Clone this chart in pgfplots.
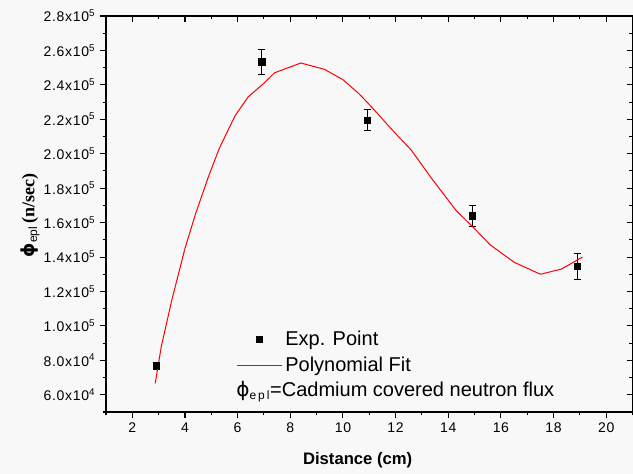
\documentclass[border=0pt]{standalone}
\usepackage{pgfplots}
\pgfplotsset{compat=1.18}
\usepackage{fontspec}
\setmainfont{Liberation Sans}
\newfontfamily\serifbf{Liberation Serif}
\newfontfamily\symb{DejaVu Sans}
\newfontfamily\ticksans[LetterSpace=5]{Liberation Sans}
\definecolor{bg}{HTML}{F8F8F8}
% tick label of the form m.m x 10^e
\newcommand{\sci}[2]{#1x10\textsuperscript{#2}}
\pgfplotsset{
  fitlegend/.style={legend image code/.code={\draw[#1] (0pt,0pt) -- (34pt,0pt);}},
  ptlegend/.style={legend image code/.code={\draw[#1] plot coordinates {(17pt,0pt)};}},
}
\begin{document}
\begin{tikzpicture}
\path[use as bounding box, fill=bg] (0,0) rectangle (474.75pt,355.5pt);
% frame with the top and right ticks, pointing inwards
\begin{axis}[
  at={(79.5pt,46.5pt)}, anchor=south west,
  width=394.9pt, height=297pt, scale only axis,
  xmin=1, xmax=21, ymin=50000, ymax=280000,
  xtick={2,4,...,20}, minor xtick={1,3,...,21},
  ytick={60000,80000,...,280000}, minor ytick={50000,70000,...,270000},
  xtick pos=right, ytick pos=right, tick align=inside,
  xticklabels={}, yticklabels={}, scaled y ticks=false, scaled x ticks=false,
  major tick length=4.5pt, minor tick length=2.5pt,
  axis line style={black, line width=0.8pt},
  every tick/.style={black, line width=0.8pt},
]
\end{axis}
\begin{axis}[
  at={(79.5pt,46.5pt)}, anchor=south west,
  width=394.9pt, height=297pt, scale only axis,
  xmin=1, xmax=21, ymin=50000, ymax=280000,
  xtick={2,4,...,20}, minor xtick={1,3,...,21},
  ytick={60000,80000,...,280000}, minor ytick={50000,70000,...,270000},
  yticklabels={\sci{6.0}{4},\sci{8.0}{4},\sci{1.0}{5},\sci{1.2}{5},\sci{1.4}{5},\sci{1.6}{5},\sci{1.8}{5},\sci{2.0}{5},\sci{2.2}{5},\sci{2.4}{5},\sci{2.6}{5},\sci{2.8}{5}},
  xtick pos=left, ytick pos=left, tick align=outside,
  major tick length=4.5pt, minor tick length=2.5pt,
  axis line style={black, line width=0.8pt},
  every tick/.style={black, line width=0.8pt},
  scaled y ticks=false,
  tick label style={font=\ticksans\fontsize{10.5}{12}\selectfont},
  /pgf/number format/assume math mode=true,
  xlabel={\bfseries Distance (cm)},
  xlabel style={at={(axis description cs:0.478,-0.121)}, anchor=center, font=\fontsize{12.5}{15}\selectfont},
  ylabel={{\symb\bfseries ϕ}\textsubscript{\fontsize{9}{10}\selectfont epl}\,{\serifbf\bfseries(n/sec)}},
  ylabel style={at={(axis description cs:-0.144,0.497)}, anchor=center, font=\fontsize{13.5}{15}\selectfont},
  legend style={at={(axis cs:5.95,98500)}, anchor=north west, draw=none, fill=none,
    inner sep=0pt, outer sep=0pt, row sep=3pt,
    font=\fontsize{15}{17}\selectfont, cells={anchor=west}},
  legend cell align=left,
]
% measured flux with uncertainties
\addplot[only marks, mark=square*, mark size=2.4pt, black, ptlegend,
  error bars/.cd, y dir=both, y explicit, error mark=-,
  error bar style={black, line width=0.6pt},
  error mark options={black, rotate=90, mark size=2.6pt, line width=0.6pt}]
  coordinates {
  (2.92,77000) +- (0,2000)
  (6.92,253500) +- (0,7200)
  (10.92,219500) +- (0,6200)
  (14.92,164000) +- (0,6000)
  (18.9,134500) +- (0,7500)
  };
\addlegendentry{Exp. Point}
% polynomial fit
\addplot[red, line width=0.75pt, fitlegend]
  coordinates {
  (2.87,66600) (3.1,88000) (3.5,115000) (4.0,145000) (4.4,165000)
  (4.9,187000) (5.3,203000) (5.9,222000) (6.4,233000) (7.0,241000)
  (7.4,247000) (8.4,252700) (9.3,249000) (10.0,243000) (10.6,235000)
  (11.1,227000) (11.8,215000) (12.6,202000) (13.4,185000) (14.3,167000)
  (14.9,158000) (15.6,147000) (16.5,137000) (17.5,130000) (18.3,133000)
  (19.1,140000)
  };
\addlegendentry{Polynomial Fit}
\node[anchor=west, inner sep=0pt, font=\fontsize{15}{17}\selectfont]
  at (axis cs:5.94,62000) {{\symb ϕ}\textsubscript{\fontsize{9}{10}\selectfont e\,p\,l}=Cadmium covered neutron flux};
\end{axis}
\end{tikzpicture}
\end{document}
